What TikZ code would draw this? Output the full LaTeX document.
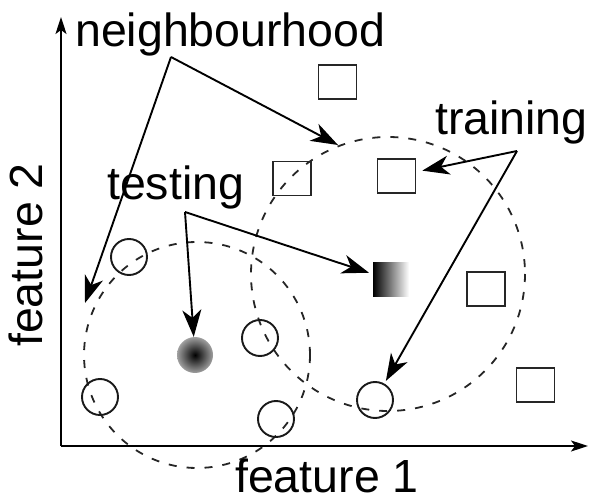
\documentclass[tikz,border=0pt]{standalone}
\usepackage{fontspec}
\setmainfont{Liberation Sans}
\usetikzlibrary{arrows.meta}
\pgfdeclareradialshading{softdot}{\pgfpoint{0bp}{0bp}}{%
  color(0bp)=(black);
  color(6bp)=(black!85);
  color(18bp)=(black!55);
  color(32bp)=(black!20);
  color(44bp)=(black!4);
  color(50bp)=(white)}
\tikzset{
  label text/.style={inner sep=0pt, font=\fontsize{46.5}{50}\selectfont},
  sample box/.style={draw=black!85, line width=1.9pt, minimum width=38pt, minimum height=34pt, inner sep=0pt},
  sample ring/.style={circle, draw=black!90, line width=1.9pt, minimum size=36pt, inner sep=0pt},
  region/.style={draw=black!85, line width=1.8pt, dash pattern=on 8pt off 10pt},
  pointer/.style={line width=1.9pt, -{Stealth[length=27pt, width=19pt, inset=8pt]}},
  axis/.style={line width=1.6pt, -{Stealth[length=17pt, width=11pt, inset=4pt]}}
}
\begin{document}
\begin{tikzpicture}[x=1pt, y=-1pt]
\useasboundingbox (0,0) rectangle (589,502);

% axes
\coordinate (o) at (61,446);
\coordinate (xend) at (588,446);
\coordinate (yend) at (61,17);
\draw[axis] (o) -- (xend);
\draw[axis] (o) -- (yend);

% neighbourhood regions
\draw[region] (197,355) circle (113);
\draw[region] (388,274) circle (137);

% training samples: boxes
\node[sample box] (b1) at (337.5,82) {};
\node[sample box] (b2) at (292,178.5) {};
\node[sample box] (b3) at (396.5,176) {};
\node[sample box] (b4) at (486,289) {};
\node[sample box] (b5) at (535.5,385) {};

% training samples: rings
\node[sample ring] (c1) at (129,257) {};
\node[sample ring] (c2) at (260,338) {};
\node[sample ring] (c3) at (100,397) {};
\node[sample ring] (c4) at (276,419) {};
\node[sample ring] (c5) at (375,400) {};

% test samples
\node[circle, minimum size=36pt, inner sep=0pt, shading=softdot] (dot) at (195,355) {};
\node[minimum width=36pt, minimum height=34pt, inner sep=0pt, left color=black, right color=white] (gsq) at (391,280) {};

% labels
\node[label text, anchor=base west] (nb) at (75,47) {neighbourhood};
\node[label text, anchor=base west] (tr) at (435,135) {training};
\node[label text, anchor=base west] (ts) at (107,200) {testing};
\node[label text, anchor=base west] (f1) at (235,492) {feature 1};
\node[label text, anchor=base west, rotate=90] (f2) at (42,347) {feature 2};

% pointer roots and free ends
\coordinate (nbroot) at (171,57);
\coordinate (tsroot) at (185,212);
\coordinate (trroot) at (517,151);
\coordinate (nbleft) at (85,303);
\coordinate (nbright) at (338,145);

% pointers
\draw[pointer] (nbroot) -- (nbleft);
\draw[pointer] (nbroot) -- (nbright);
\draw[pointer] (tsroot) -- (dot);
\draw[pointer, shorten >=4pt] (tsroot) -- (gsq);
\draw[pointer, shorten >=6pt] (trroot) -- (b3);
\draw[pointer, shorten >=3pt] (trroot) -- (c5);
\end{tikzpicture}
\end{document}
